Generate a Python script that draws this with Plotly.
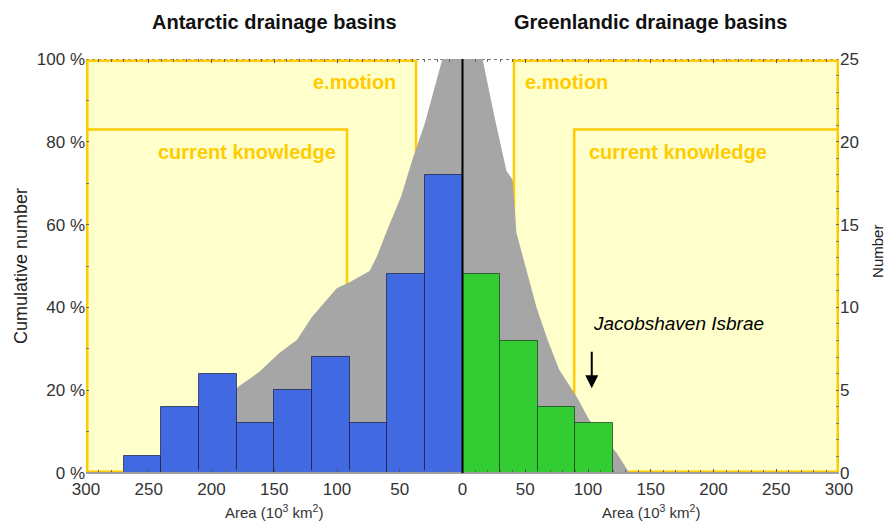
import plotly.graph_objects as go

# ---------------- data ----------------
# Antarctic basins: bin edges (10^3 km^2) and number of basins per bin
ant_bin_edges = [270, 240, 210, 180, 150, 120, 90, 60, 30, 0]
ant_counts = [1, 4, 6, 3, 5, 7, 3, 12, 18]
# Greenland basins
grl_bin_edges = [0, 30, 60, 90, 120]
grl_counts = [12, 8, 4, 3]

# Cumulative number (%)
ant_cum_area = [270, 240, 210, 190, 179, 162, 146, 132, 120, 108, 100, 90, 74, 68, 60, 49, 40, 30, 16]
ant_cum_pct = [0, 3, 9, 16, 20.8, 24.4, 29, 32.1, 37.7, 41.8, 44.7, 46.1, 48.8, 52.5, 58.7, 66.7, 75.6, 84.5, 100]
grl_cum_area = [16, 25.5, 35, 40, 43, 51, 59, 68, 77, 91, 101, 123, 133]
grl_cum_pct = [100, 86, 73, 70.8, 58, 49, 40, 32, 25, 18.4, 12.8, 4.8, 0]

# Coverage boxes: (area limit, cumulative % height)
ant_emotion = [37, 100]
ant_knowledge = [92, 83]
grl_emotion = [41, 100]
grl_knowledge = [89, 83]

area_tick_labels = [0, 50, 100, 150, 200, 250, 300]
pct_tick_labels = [0, 20, 40, 60, 80, 100]
num_tick_labels = [0, 5, 10, 15, 20, 25]
jacobshaven = [103, 20.5]

# ---------------- styles ----------------
FONT = "Liberation Sans"
GOLD = "#FFCC00"
PALE = "#FFFFCC"
GREY = "#A6A6A6"
BLUE = "#4169E1"
GREEN = "#33CC33"

fig = go.Figure()

# grey cumulative area
cx = [-a for a in ant_cum_area] + grl_cum_area
cy = ant_cum_pct + grl_cum_pct
fig.add_trace(go.Scatter(x=cx, y=cy, mode="lines", fill="tozeroy",
                         fillcolor=GREY, line=dict(width=0, color=GREY),
                         hoverinfo="skip", yaxis="y"))

# bars
ax = [-(a + b) / 2 for a, b in zip(ant_bin_edges[:-1], ant_bin_edges[1:])]
aw = [abs(a - b) for a, b in zip(ant_bin_edges[:-1], ant_bin_edges[1:])]
gx = [(a + b) / 2 for a, b in zip(grl_bin_edges[:-1], grl_bin_edges[1:])]
gw = [abs(a - b) for a, b in zip(grl_bin_edges[:-1], grl_bin_edges[1:])]

fig.add_trace(go.Bar(x=ax, y=ant_counts, width=aw, marker=dict(color=BLUE,
                     line=dict(color="rgba(20,30,60,0.7)", width=1)), yaxis="y2"))
fig.add_trace(go.Bar(x=gx, y=grl_counts, width=gw, marker=dict(color=GREEN,
                     line=dict(color="rgba(20,60,20,0.7)", width=1)), yaxis="y2"))

shapes = []
# dotted top frame
shapes.append(dict(type="line", xref="x", yref="y", x0=-300, x1=300, y0=100, y1=100,
                   line=dict(color="#777", width=2, dash="dot"), layer="below"))
for x0, x1, top in [(-299, -ant_emotion[0], ant_emotion[1]),
                    (-299, -ant_knowledge[0], ant_knowledge[1]),
                    (grl_emotion[0], 299, grl_emotion[1]),
                    (grl_knowledge[0], 299, grl_knowledge[1])]:
    shapes.append(dict(type="rect", xref="x", yref="y", x0=x0, x1=x1, y0=0.3, y1=min(top, 99.6),
                       fillcolor=PALE, line=dict(color=GOLD, width=2.5), layer="below"))
# bottom axis line
shapes.append(dict(type="line", xref="paper", yref="paper", x0=0, x1=1, y0=0, y1=0,
                   line=dict(color="#A0A0A0", width=2), layer="above"))
# zero line
shapes.append(dict(type="line", xref="x", yref="y", x0=0, x1=0, y0=0, y1=100,
                   line=dict(color="black", width=2), layer="above"))

ann = []
def txt(x, y, s, size, color="black", bold=False, italic=False, xref="x", yref="y",
        angle=0, family=FONT):
    t = s
    if bold:
        t = "<b>" + t + "</b>"
    if italic:
        t = "<i>" + t + "</i>"
    ann.append(dict(x=x, y=y, xref=xref, yref=yref, text=t, showarrow=False,
                    textangle=angle, font=dict(family=family, size=size, color=color),
                    xanchor="center", yanchor="middle"))

txt(-86, 94.4, "e.motion", 20, GOLD, bold=True)
txt(-172, 77.5, "current knowledge", 20, GOLD, bold=True)
txt(83, 94.4, "e.motion", 20, GOLD, bold=True)
txt(172, 77.5, "current knowledge", 20, GOLD, bold=True)
txt(172, 36.2, "Jacobshaven Isbrae", 19, "black", italic=True)
txt(-150, 1.089, "Antarctic drainage basins", 20, "#111", bold=True, yref="paper")
txt(150, 1.089, "Greenlandic drainage basins", 20, "#111", bold=True, yref="paper")
txt(-150, -0.092, "Area (10<sup>3</sup> km<sup>2</sup>)", 15, "#333", yref="paper")
txt(150, -0.092, "Area (10<sup>3</sup> km<sup>2</sup>)", 15, "#333", yref="paper")
txt(-0.0863, 0.5, "Cumulative number", 18, "#222", xref="paper", yref="paper", angle=-90)
txt(1.0518, 0.534, "Number", 15, "#222", xref="paper", yref="paper", angle=-90)

ann.append(dict(x=jacobshaven[0], y=jacobshaven[1], xref="x", yref="y", ax=0, ay=-38,
                text="", showarrow=True, arrowhead=2, arrowsize=1.3, arrowwidth=2,
                arrowcolor="black"))

tickvals = [-v for v in area_tick_labels[::-1]] + area_tick_labels[1:]
ticktext = [str(v) for v in area_tick_labels[::-1]] + [str(v) for v in area_tick_labels[1:]]

fig.update_layout(
    width=890, height=524,
    margin=dict(l=86, r=51, t=59, b=51, autoexpand=False),
    paper_bgcolor="white", plot_bgcolor="white",
    showlegend=False, barmode="overlay", bargap=0,
    font=dict(family=FONT, size=17, color="#333"),
    shapes=shapes, annotations=ann,
    xaxis=dict(range=[-300, 300], tickmode="array", tickvals=tickvals, ticktext=ticktext,
               showgrid=False, zeroline=False, showline=False, mirror="ticks",
               ticks="inside", ticklen=4, tickcolor="#555", automargin=False,
               ticklabelstandoff=4,
               minor=dict(tickmode="linear", tick0=0, dtick=10, ticks="inside",
                          ticklen=3, tickcolor="#666"),
               tickfont=dict(size=17, color="#333")),
    yaxis=dict(range=[0, 100], tickmode="array", tickvals=pct_tick_labels,
               ticktext=[f"{v} %" for v in pct_tick_labels], showgrid=False,
               zeroline=False, showline=False, ticks="inside", ticklen=3,
               tickcolor="#666", automargin=False,
               minor=dict(tickmode="linear", tick0=0, dtick=10, ticks="inside",
                          ticklen=3, tickcolor="#777"),
               tickfont=dict(size=17, color="#333")),
    yaxis2=dict(range=[0, 25], overlaying="y", side="right", tickmode="array",
                tickvals=num_tick_labels, ticktext=[str(v) for v in num_tick_labels],
                showgrid=False, zeroline=False, showline=False, ticks="inside",
                ticklen=3, tickcolor="#666", automargin=False,
                minor=dict(tickmode="linear", tick0=0, dtick=1, ticks="inside",
                           ticklen=3, tickcolor="#777"),
                tickfont=dict(size=17, color="#333")),
)

fig.write_html("out.html", config={"displayModeBar": False},
               post_script="document.body.style.margin='0';document.body.style.overflow='hidden';")
